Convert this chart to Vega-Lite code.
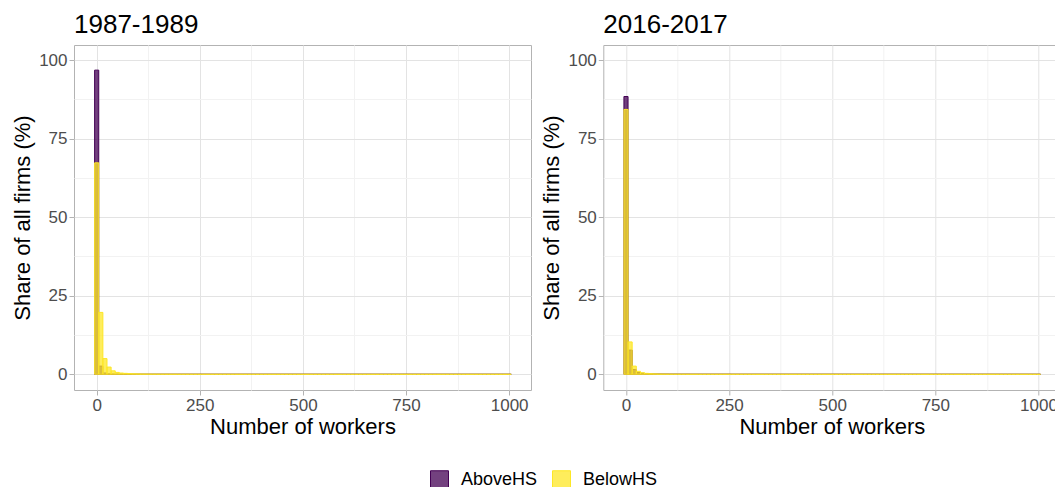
{
  "$schema": "https://vega.github.io/schema/vega-lite/v6.json",
  "autosize": {"type": "none"},
  "padding": {"left": 74, "top": 45, "right": 981, "bottom": 442},
  "background": "white",
  "config": {
    "font": "Liberation Sans",
    "view": {"stroke": "#b3b3b3", "strokeWidth": 1},
    "axis": {
      "labelFont": "Liberation Sans",
      "labelFontSize": 17,
      "labelColor": "#4d4d4d",
      "titleFont": "Liberation Sans",
      "titleFontSize": 22,
      "titleFontWeight": "normal",
      "titleColor": "#000000",
      "tickColor": "#b3b3b3",
      "tickSize": 5,
      "labelPadding": 2,
      "domain": false,
      "gridWidth": 1
    },
    "title": {"font": "Liberation Sans", "fontSize": 26, "fontWeight": "normal", "color": "#000000", "anchor": "start", "frame": "group", "offset": 7}
  },
  "datasets": {
    "d87": [
      {"g":"AboveHS","lo":-5,"hi":5,"v":96.8},{"g":"AboveHS","lo":5,"hi":15,"v":2.6},{"g":"AboveHS","lo":15,"hi":25,"v":0.4},{"g":"AboveHS","lo":25,"hi":35,"v":0.1},{"g":"AboveHS","lo":35,"hi":45,"v":0.04},{"g":"AboveHS","lo":45,"hi":55,"v":0.02},{"g":"AboveHS","lo":55,"hi":65,"v":0.01},{"g":"AboveHS","lo":65,"hi":75,"v":0.01},{"g":"AboveHS","lo":75,"hi":85,"v":0},{"g":"AboveHS","lo":85,"hi":95,"v":0},
      {"g":"AboveHS","lo":95,"hi":105,"v":0},{"g":"AboveHS","lo":105,"hi":115,"v":0},{"g":"AboveHS","lo":115,"hi":125,"v":0},{"g":"AboveHS","lo":125,"hi":135,"v":0},{"g":"AboveHS","lo":135,"hi":145,"v":0},{"g":"AboveHS","lo":145,"hi":155,"v":0},{"g":"AboveHS","lo":155,"hi":165,"v":0},{"g":"AboveHS","lo":165,"hi":175,"v":0},{"g":"AboveHS","lo":175,"hi":185,"v":0},{"g":"AboveHS","lo":185,"hi":195,"v":0},
      {"g":"AboveHS","lo":195,"hi":205,"v":0},{"g":"AboveHS","lo":205,"hi":215,"v":0},{"g":"AboveHS","lo":215,"hi":225,"v":0},{"g":"AboveHS","lo":225,"hi":235,"v":0},{"g":"AboveHS","lo":235,"hi":245,"v":0},{"g":"AboveHS","lo":245,"hi":255,"v":0},{"g":"AboveHS","lo":255,"hi":265,"v":0},{"g":"AboveHS","lo":265,"hi":275,"v":0},{"g":"AboveHS","lo":275,"hi":285,"v":0},{"g":"AboveHS","lo":285,"hi":295,"v":0},
      {"g":"AboveHS","lo":295,"hi":305,"v":0},{"g":"AboveHS","lo":305,"hi":315,"v":0},{"g":"AboveHS","lo":315,"hi":325,"v":0},{"g":"AboveHS","lo":325,"hi":335,"v":0},{"g":"AboveHS","lo":335,"hi":345,"v":0},{"g":"AboveHS","lo":345,"hi":355,"v":0},{"g":"AboveHS","lo":355,"hi":365,"v":0},{"g":"AboveHS","lo":365,"hi":375,"v":0},{"g":"AboveHS","lo":375,"hi":385,"v":0},{"g":"AboveHS","lo":385,"hi":395,"v":0},
      {"g":"AboveHS","lo":395,"hi":405,"v":0},{"g":"AboveHS","lo":405,"hi":415,"v":0},{"g":"AboveHS","lo":415,"hi":425,"v":0},{"g":"AboveHS","lo":425,"hi":435,"v":0},{"g":"AboveHS","lo":435,"hi":445,"v":0},{"g":"AboveHS","lo":445,"hi":455,"v":0},{"g":"AboveHS","lo":455,"hi":465,"v":0},{"g":"AboveHS","lo":465,"hi":475,"v":0},{"g":"AboveHS","lo":475,"hi":485,"v":0},{"g":"AboveHS","lo":485,"hi":495,"v":0},
      {"g":"AboveHS","lo":495,"hi":505,"v":0},{"g":"AboveHS","lo":505,"hi":515,"v":0},{"g":"AboveHS","lo":515,"hi":525,"v":0},{"g":"AboveHS","lo":525,"hi":535,"v":0},{"g":"AboveHS","lo":535,"hi":545,"v":0},{"g":"AboveHS","lo":545,"hi":555,"v":0},{"g":"AboveHS","lo":555,"hi":565,"v":0},{"g":"AboveHS","lo":565,"hi":575,"v":0},{"g":"AboveHS","lo":575,"hi":585,"v":0},{"g":"AboveHS","lo":585,"hi":595,"v":0},
      {"g":"AboveHS","lo":595,"hi":605,"v":0},{"g":"AboveHS","lo":605,"hi":615,"v":0},{"g":"AboveHS","lo":615,"hi":625,"v":0},{"g":"AboveHS","lo":625,"hi":635,"v":0},{"g":"AboveHS","lo":635,"hi":645,"v":0},{"g":"AboveHS","lo":645,"hi":655,"v":0},{"g":"AboveHS","lo":655,"hi":665,"v":0},{"g":"AboveHS","lo":665,"hi":675,"v":0},{"g":"AboveHS","lo":675,"hi":685,"v":0},{"g":"AboveHS","lo":685,"hi":695,"v":0},
      {"g":"AboveHS","lo":695,"hi":705,"v":0},{"g":"AboveHS","lo":705,"hi":715,"v":0},{"g":"AboveHS","lo":715,"hi":725,"v":0},{"g":"AboveHS","lo":725,"hi":735,"v":0},{"g":"AboveHS","lo":735,"hi":745,"v":0},{"g":"AboveHS","lo":745,"hi":755,"v":0},{"g":"AboveHS","lo":755,"hi":765,"v":0},{"g":"AboveHS","lo":765,"hi":775,"v":0},{"g":"AboveHS","lo":775,"hi":785,"v":0},{"g":"AboveHS","lo":785,"hi":795,"v":0},
      {"g":"AboveHS","lo":795,"hi":805,"v":0},{"g":"AboveHS","lo":805,"hi":815,"v":0},{"g":"AboveHS","lo":815,"hi":825,"v":0},{"g":"AboveHS","lo":825,"hi":835,"v":0},{"g":"AboveHS","lo":835,"hi":845,"v":0},{"g":"AboveHS","lo":845,"hi":855,"v":0},{"g":"AboveHS","lo":855,"hi":865,"v":0},{"g":"AboveHS","lo":865,"hi":875,"v":0},{"g":"AboveHS","lo":875,"hi":885,"v":0},{"g":"AboveHS","lo":885,"hi":895,"v":0},
      {"g":"AboveHS","lo":895,"hi":905,"v":0},{"g":"AboveHS","lo":905,"hi":915,"v":0},{"g":"AboveHS","lo":915,"hi":925,"v":0},{"g":"AboveHS","lo":925,"hi":935,"v":0},{"g":"AboveHS","lo":935,"hi":945,"v":0},{"g":"AboveHS","lo":945,"hi":955,"v":0},{"g":"AboveHS","lo":955,"hi":965,"v":0},{"g":"AboveHS","lo":965,"hi":975,"v":0},{"g":"AboveHS","lo":975,"hi":985,"v":0},{"g":"AboveHS","lo":985,"hi":995,"v":0},
      {"g":"AboveHS","lo":995,"hi":1005,"v":0},
      {"g":"BelowHS","lo":-5,"hi":5,"v":67.3},{"g":"BelowHS","lo":5,"hi":15,"v":19.7},{"g":"BelowHS","lo":15,"hi":25,"v":5.0},{"g":"BelowHS","lo":25,"hi":35,"v":2.3},{"g":"BelowHS","lo":35,"hi":45,"v":1.1},{"g":"BelowHS","lo":45,"hi":55,"v":0.6},{"g":"BelowHS","lo":55,"hi":65,"v":0.4},{"g":"BelowHS","lo":65,"hi":75,"v":0.3},{"g":"BelowHS","lo":75,"hi":85,"v":0.22},{"g":"BelowHS","lo":85,"hi":95,"v":0.17},
      {"g":"BelowHS","lo":95,"hi":105,"v":0.13},{"g":"BelowHS","lo":105,"hi":115,"v":0.1},{"g":"BelowHS","lo":115,"hi":125,"v":0.08},{"g":"BelowHS","lo":125,"hi":135,"v":0.07},{"g":"BelowHS","lo":135,"hi":145,"v":0.06},{"g":"BelowHS","lo":145,"hi":155,"v":0.05},{"g":"BelowHS","lo":155,"hi":165,"v":0.04},{"g":"BelowHS","lo":165,"hi":175,"v":0.04},{"g":"BelowHS","lo":175,"hi":185,"v":0.03},{"g":"BelowHS","lo":185,"hi":195,"v":0.03},
      {"g":"BelowHS","lo":195,"hi":205,"v":0.02},{"g":"BelowHS","lo":205,"hi":215,"v":0.02},{"g":"BelowHS","lo":215,"hi":225,"v":0.02},{"g":"BelowHS","lo":225,"hi":235,"v":0.02},{"g":"BelowHS","lo":235,"hi":245,"v":0.02},{"g":"BelowHS","lo":245,"hi":255,"v":0.01},{"g":"BelowHS","lo":255,"hi":265,"v":0.01},{"g":"BelowHS","lo":265,"hi":275,"v":0.01},{"g":"BelowHS","lo":275,"hi":285,"v":0.01},{"g":"BelowHS","lo":285,"hi":295,"v":0.01},
      {"g":"BelowHS","lo":295,"hi":305,"v":0.01},{"g":"BelowHS","lo":305,"hi":315,"v":0.01},{"g":"BelowHS","lo":315,"hi":325,"v":0.01},{"g":"BelowHS","lo":325,"hi":335,"v":0.01},{"g":"BelowHS","lo":335,"hi":345,"v":0.01},{"g":"BelowHS","lo":345,"hi":355,"v":0.01},{"g":"BelowHS","lo":355,"hi":365,"v":0},{"g":"BelowHS","lo":365,"hi":375,"v":0},{"g":"BelowHS","lo":375,"hi":385,"v":0},{"g":"BelowHS","lo":385,"hi":395,"v":0},
      {"g":"BelowHS","lo":395,"hi":405,"v":0},{"g":"BelowHS","lo":405,"hi":415,"v":0},{"g":"BelowHS","lo":415,"hi":425,"v":0},{"g":"BelowHS","lo":425,"hi":435,"v":0},{"g":"BelowHS","lo":435,"hi":445,"v":0},{"g":"BelowHS","lo":445,"hi":455,"v":0},{"g":"BelowHS","lo":455,"hi":465,"v":0},{"g":"BelowHS","lo":465,"hi":475,"v":0},{"g":"BelowHS","lo":475,"hi":485,"v":0},{"g":"BelowHS","lo":485,"hi":495,"v":0},
      {"g":"BelowHS","lo":495,"hi":505,"v":0},{"g":"BelowHS","lo":505,"hi":515,"v":0},{"g":"BelowHS","lo":515,"hi":525,"v":0},{"g":"BelowHS","lo":525,"hi":535,"v":0},{"g":"BelowHS","lo":535,"hi":545,"v":0},{"g":"BelowHS","lo":545,"hi":555,"v":0},{"g":"BelowHS","lo":555,"hi":565,"v":0},{"g":"BelowHS","lo":565,"hi":575,"v":0},{"g":"BelowHS","lo":575,"hi":585,"v":0},{"g":"BelowHS","lo":585,"hi":595,"v":0},
      {"g":"BelowHS","lo":595,"hi":605,"v":0},{"g":"BelowHS","lo":605,"hi":615,"v":0},{"g":"BelowHS","lo":615,"hi":625,"v":0},{"g":"BelowHS","lo":625,"hi":635,"v":0},{"g":"BelowHS","lo":635,"hi":645,"v":0},{"g":"BelowHS","lo":645,"hi":655,"v":0},{"g":"BelowHS","lo":655,"hi":665,"v":0},{"g":"BelowHS","lo":665,"hi":675,"v":0},{"g":"BelowHS","lo":675,"hi":685,"v":0},{"g":"BelowHS","lo":685,"hi":695,"v":0},
      {"g":"BelowHS","lo":695,"hi":705,"v":0},{"g":"BelowHS","lo":705,"hi":715,"v":0},{"g":"BelowHS","lo":715,"hi":725,"v":0},{"g":"BelowHS","lo":725,"hi":735,"v":0},{"g":"BelowHS","lo":735,"hi":745,"v":0},{"g":"BelowHS","lo":745,"hi":755,"v":0},{"g":"BelowHS","lo":755,"hi":765,"v":0},{"g":"BelowHS","lo":765,"hi":775,"v":0},{"g":"BelowHS","lo":775,"hi":785,"v":0},{"g":"BelowHS","lo":785,"hi":795,"v":0},
      {"g":"BelowHS","lo":795,"hi":805,"v":0},{"g":"BelowHS","lo":805,"hi":815,"v":0},{"g":"BelowHS","lo":815,"hi":825,"v":0},{"g":"BelowHS","lo":825,"hi":835,"v":0},{"g":"BelowHS","lo":835,"hi":845,"v":0},{"g":"BelowHS","lo":845,"hi":855,"v":0},{"g":"BelowHS","lo":855,"hi":865,"v":0},{"g":"BelowHS","lo":865,"hi":875,"v":0},{"g":"BelowHS","lo":875,"hi":885,"v":0},{"g":"BelowHS","lo":885,"hi":895,"v":0},
      {"g":"BelowHS","lo":895,"hi":905,"v":0},{"g":"BelowHS","lo":905,"hi":915,"v":0},{"g":"BelowHS","lo":915,"hi":925,"v":0},{"g":"BelowHS","lo":925,"hi":935,"v":0},{"g":"BelowHS","lo":935,"hi":945,"v":0},{"g":"BelowHS","lo":945,"hi":955,"v":0},{"g":"BelowHS","lo":955,"hi":965,"v":0},{"g":"BelowHS","lo":965,"hi":975,"v":0},{"g":"BelowHS","lo":975,"hi":985,"v":0},{"g":"BelowHS","lo":985,"hi":995,"v":0},
      {"g":"BelowHS","lo":995,"hi":1005,"v":0}
    ],
    "d16": [
      {"g":"AboveHS","lo":-5,"hi":5,"v":88.4},{"g":"AboveHS","lo":5,"hi":15,"v":7.7},{"g":"AboveHS","lo":15,"hi":25,"v":1.5},{"g":"AboveHS","lo":25,"hi":35,"v":0.55},{"g":"AboveHS","lo":35,"hi":45,"v":0.3},{"g":"AboveHS","lo":45,"hi":55,"v":0.18},{"g":"AboveHS","lo":55,"hi":65,"v":0.12},{"g":"AboveHS","lo":65,"hi":75,"v":0.08},{"g":"AboveHS","lo":75,"hi":85,"v":0.06},{"g":"AboveHS","lo":85,"hi":95,"v":0.05},
      {"g":"AboveHS","lo":95,"hi":105,"v":0.04},{"g":"AboveHS","lo":105,"hi":115,"v":0.03},{"g":"AboveHS","lo":115,"hi":125,"v":0.03},{"g":"AboveHS","lo":125,"hi":135,"v":0.02},{"g":"AboveHS","lo":135,"hi":145,"v":0.02},{"g":"AboveHS","lo":145,"hi":155,"v":0.02},{"g":"AboveHS","lo":155,"hi":165,"v":0.01},{"g":"AboveHS","lo":165,"hi":175,"v":0.01},{"g":"AboveHS","lo":175,"hi":185,"v":0.01},{"g":"AboveHS","lo":185,"hi":195,"v":0.01},
      {"g":"AboveHS","lo":195,"hi":205,"v":0.01},{"g":"AboveHS","lo":205,"hi":215,"v":0.01},{"g":"AboveHS","lo":215,"hi":225,"v":0.01},{"g":"AboveHS","lo":225,"hi":235,"v":0.01},{"g":"AboveHS","lo":235,"hi":245,"v":0.01},{"g":"AboveHS","lo":245,"hi":255,"v":0.01},{"g":"AboveHS","lo":255,"hi":265,"v":0},{"g":"AboveHS","lo":265,"hi":275,"v":0},{"g":"AboveHS","lo":275,"hi":285,"v":0},{"g":"AboveHS","lo":285,"hi":295,"v":0},
      {"g":"AboveHS","lo":295,"hi":305,"v":0},{"g":"AboveHS","lo":305,"hi":315,"v":0},{"g":"AboveHS","lo":315,"hi":325,"v":0},{"g":"AboveHS","lo":325,"hi":335,"v":0},{"g":"AboveHS","lo":335,"hi":345,"v":0},{"g":"AboveHS","lo":345,"hi":355,"v":0},{"g":"AboveHS","lo":355,"hi":365,"v":0},{"g":"AboveHS","lo":365,"hi":375,"v":0},{"g":"AboveHS","lo":375,"hi":385,"v":0},{"g":"AboveHS","lo":385,"hi":395,"v":0},
      {"g":"AboveHS","lo":395,"hi":405,"v":0},{"g":"AboveHS","lo":405,"hi":415,"v":0},{"g":"AboveHS","lo":415,"hi":425,"v":0},{"g":"AboveHS","lo":425,"hi":435,"v":0},{"g":"AboveHS","lo":435,"hi":445,"v":0},{"g":"AboveHS","lo":445,"hi":455,"v":0},{"g":"AboveHS","lo":455,"hi":465,"v":0},{"g":"AboveHS","lo":465,"hi":475,"v":0},{"g":"AboveHS","lo":475,"hi":485,"v":0},{"g":"AboveHS","lo":485,"hi":495,"v":0},
      {"g":"AboveHS","lo":495,"hi":505,"v":0},{"g":"AboveHS","lo":505,"hi":515,"v":0},{"g":"AboveHS","lo":515,"hi":525,"v":0},{"g":"AboveHS","lo":525,"hi":535,"v":0},{"g":"AboveHS","lo":535,"hi":545,"v":0},{"g":"AboveHS","lo":545,"hi":555,"v":0},{"g":"AboveHS","lo":555,"hi":565,"v":0},{"g":"AboveHS","lo":565,"hi":575,"v":0},{"g":"AboveHS","lo":575,"hi":585,"v":0},{"g":"AboveHS","lo":585,"hi":595,"v":0},
      {"g":"AboveHS","lo":595,"hi":605,"v":0},{"g":"AboveHS","lo":605,"hi":615,"v":0},{"g":"AboveHS","lo":615,"hi":625,"v":0},{"g":"AboveHS","lo":625,"hi":635,"v":0},{"g":"AboveHS","lo":635,"hi":645,"v":0},{"g":"AboveHS","lo":645,"hi":655,"v":0},{"g":"AboveHS","lo":655,"hi":665,"v":0},{"g":"AboveHS","lo":665,"hi":675,"v":0},{"g":"AboveHS","lo":675,"hi":685,"v":0},{"g":"AboveHS","lo":685,"hi":695,"v":0},
      {"g":"AboveHS","lo":695,"hi":705,"v":0},{"g":"AboveHS","lo":705,"hi":715,"v":0},{"g":"AboveHS","lo":715,"hi":725,"v":0},{"g":"AboveHS","lo":725,"hi":735,"v":0},{"g":"AboveHS","lo":735,"hi":745,"v":0},{"g":"AboveHS","lo":745,"hi":755,"v":0},{"g":"AboveHS","lo":755,"hi":765,"v":0},{"g":"AboveHS","lo":765,"hi":775,"v":0},{"g":"AboveHS","lo":775,"hi":785,"v":0},{"g":"AboveHS","lo":785,"hi":795,"v":0},
      {"g":"AboveHS","lo":795,"hi":805,"v":0},{"g":"AboveHS","lo":805,"hi":815,"v":0},{"g":"AboveHS","lo":815,"hi":825,"v":0},{"g":"AboveHS","lo":825,"hi":835,"v":0},{"g":"AboveHS","lo":835,"hi":845,"v":0},{"g":"AboveHS","lo":845,"hi":855,"v":0},{"g":"AboveHS","lo":855,"hi":865,"v":0},{"g":"AboveHS","lo":865,"hi":875,"v":0},{"g":"AboveHS","lo":875,"hi":885,"v":0},{"g":"AboveHS","lo":885,"hi":895,"v":0},
      {"g":"AboveHS","lo":895,"hi":905,"v":0},{"g":"AboveHS","lo":905,"hi":915,"v":0},{"g":"AboveHS","lo":915,"hi":925,"v":0},{"g":"AboveHS","lo":925,"hi":935,"v":0},{"g":"AboveHS","lo":935,"hi":945,"v":0},{"g":"AboveHS","lo":945,"hi":955,"v":0},{"g":"AboveHS","lo":955,"hi":965,"v":0},{"g":"AboveHS","lo":965,"hi":975,"v":0},{"g":"AboveHS","lo":975,"hi":985,"v":0},{"g":"AboveHS","lo":985,"hi":995,"v":0},
      {"g":"AboveHS","lo":995,"hi":1005,"v":0},
      {"g":"BelowHS","lo":-5,"hi":5,"v":84.3},{"g":"BelowHS","lo":5,"hi":15,"v":10.3},{"g":"BelowHS","lo":15,"hi":25,"v":2.6},{"g":"BelowHS","lo":25,"hi":35,"v":0.95},{"g":"BelowHS","lo":35,"hi":45,"v":0.5},{"g":"BelowHS","lo":45,"hi":55,"v":0.3},{"g":"BelowHS","lo":55,"hi":65,"v":0.2},{"g":"BelowHS","lo":65,"hi":75,"v":0.14},{"g":"BelowHS","lo":75,"hi":85,"v":0.1},{"g":"BelowHS","lo":85,"hi":95,"v":0.08},
      {"g":"BelowHS","lo":95,"hi":105,"v":0.06},{"g":"BelowHS","lo":105,"hi":115,"v":0.05},{"g":"BelowHS","lo":115,"hi":125,"v":0.04},{"g":"BelowHS","lo":125,"hi":135,"v":0.03},{"g":"BelowHS","lo":135,"hi":145,"v":0.03},{"g":"BelowHS","lo":145,"hi":155,"v":0.02},{"g":"BelowHS","lo":155,"hi":165,"v":0.02},{"g":"BelowHS","lo":165,"hi":175,"v":0.02},{"g":"BelowHS","lo":175,"hi":185,"v":0.01},{"g":"BelowHS","lo":185,"hi":195,"v":0.01},
      {"g":"BelowHS","lo":195,"hi":205,"v":0.01},{"g":"BelowHS","lo":205,"hi":215,"v":0.01},{"g":"BelowHS","lo":215,"hi":225,"v":0.01},{"g":"BelowHS","lo":225,"hi":235,"v":0.01},{"g":"BelowHS","lo":235,"hi":245,"v":0.01},{"g":"BelowHS","lo":245,"hi":255,"v":0.01},{"g":"BelowHS","lo":255,"hi":265,"v":0.01},{"g":"BelowHS","lo":265,"hi":275,"v":0.01},{"g":"BelowHS","lo":275,"hi":285,"v":0.01},{"g":"BelowHS","lo":285,"hi":295,"v":0.01},
      {"g":"BelowHS","lo":295,"hi":305,"v":0.01},{"g":"BelowHS","lo":305,"hi":315,"v":0},{"g":"BelowHS","lo":315,"hi":325,"v":0},{"g":"BelowHS","lo":325,"hi":335,"v":0},{"g":"BelowHS","lo":335,"hi":345,"v":0},{"g":"BelowHS","lo":345,"hi":355,"v":0},{"g":"BelowHS","lo":355,"hi":365,"v":0},{"g":"BelowHS","lo":365,"hi":375,"v":0},{"g":"BelowHS","lo":375,"hi":385,"v":0},{"g":"BelowHS","lo":385,"hi":395,"v":0},
      {"g":"BelowHS","lo":395,"hi":405,"v":0},{"g":"BelowHS","lo":405,"hi":415,"v":0},{"g":"BelowHS","lo":415,"hi":425,"v":0},{"g":"BelowHS","lo":425,"hi":435,"v":0},{"g":"BelowHS","lo":435,"hi":445,"v":0},{"g":"BelowHS","lo":445,"hi":455,"v":0},{"g":"BelowHS","lo":455,"hi":465,"v":0},{"g":"BelowHS","lo":465,"hi":475,"v":0},{"g":"BelowHS","lo":475,"hi":485,"v":0},{"g":"BelowHS","lo":485,"hi":495,"v":0},
      {"g":"BelowHS","lo":495,"hi":505,"v":0},{"g":"BelowHS","lo":505,"hi":515,"v":0},{"g":"BelowHS","lo":515,"hi":525,"v":0},{"g":"BelowHS","lo":525,"hi":535,"v":0},{"g":"BelowHS","lo":535,"hi":545,"v":0},{"g":"BelowHS","lo":545,"hi":555,"v":0},{"g":"BelowHS","lo":555,"hi":565,"v":0},{"g":"BelowHS","lo":565,"hi":575,"v":0},{"g":"BelowHS","lo":575,"hi":585,"v":0},{"g":"BelowHS","lo":585,"hi":595,"v":0},
      {"g":"BelowHS","lo":595,"hi":605,"v":0},{"g":"BelowHS","lo":605,"hi":615,"v":0},{"g":"BelowHS","lo":615,"hi":625,"v":0},{"g":"BelowHS","lo":625,"hi":635,"v":0},{"g":"BelowHS","lo":635,"hi":645,"v":0},{"g":"BelowHS","lo":645,"hi":655,"v":0},{"g":"BelowHS","lo":655,"hi":665,"v":0},{"g":"BelowHS","lo":665,"hi":675,"v":0},{"g":"BelowHS","lo":675,"hi":685,"v":0},{"g":"BelowHS","lo":685,"hi":695,"v":0},
      {"g":"BelowHS","lo":695,"hi":705,"v":0},{"g":"BelowHS","lo":705,"hi":715,"v":0},{"g":"BelowHS","lo":715,"hi":725,"v":0},{"g":"BelowHS","lo":725,"hi":735,"v":0},{"g":"BelowHS","lo":735,"hi":745,"v":0},{"g":"BelowHS","lo":745,"hi":755,"v":0},{"g":"BelowHS","lo":755,"hi":765,"v":0},{"g":"BelowHS","lo":765,"hi":775,"v":0},{"g":"BelowHS","lo":775,"hi":785,"v":0},{"g":"BelowHS","lo":785,"hi":795,"v":0},
      {"g":"BelowHS","lo":795,"hi":805,"v":0},{"g":"BelowHS","lo":805,"hi":815,"v":0},{"g":"BelowHS","lo":815,"hi":825,"v":0},{"g":"BelowHS","lo":825,"hi":835,"v":0},{"g":"BelowHS","lo":835,"hi":845,"v":0},{"g":"BelowHS","lo":845,"hi":855,"v":0},{"g":"BelowHS","lo":855,"hi":865,"v":0},{"g":"BelowHS","lo":865,"hi":875,"v":0},{"g":"BelowHS","lo":875,"hi":885,"v":0},{"g":"BelowHS","lo":885,"hi":895,"v":0},
      {"g":"BelowHS","lo":895,"hi":905,"v":0},{"g":"BelowHS","lo":905,"hi":915,"v":0},{"g":"BelowHS","lo":915,"hi":925,"v":0},{"g":"BelowHS","lo":925,"hi":935,"v":0},{"g":"BelowHS","lo":935,"hi":945,"v":0},{"g":"BelowHS","lo":945,"hi":955,"v":0},{"g":"BelowHS","lo":955,"hi":965,"v":0},{"g":"BelowHS","lo":965,"hi":975,"v":0},{"g":"BelowHS","lo":975,"hi":985,"v":0},{"g":"BelowHS","lo":985,"hi":995,"v":0},
      {"g":"BelowHS","lo":995,"hi":1005,"v":0}
    ]
  },
  "bounds": "flush",
  "spacing": 72.3,
  "resolve": {"scale": {"color": "shared", "stroke": "shared"}, "legend": {"color": "shared", "stroke": "shared"}},
  "hconcat": [
    {
      "width": 457,
      "height": 345,
      "title": {"text": "1987-1989"},
      "data": {"name": "d87"},
      "mark": {"type": "bar", "fillOpacity": 0.75, "strokeWidth": 1},
      "encoding": {
        "x": {"field": "lo", "type": "quantitative", "scale": {"domain": [-55, 1053], "nice": false, "zero": false},
          "axis": {"title": "Number of workers", "titlePadding": 3, "values": [0,125,250,375,500,625,750,875,1000], "format": "d",
            "labelExpr": "datum.value % 250 === 0 ? datum.label : ''",
            "tickOpacity": {"condition": {"test": "datum.value % 250 !== 0", "value": 0}, "value": 1},
            "gridColor": {"condition": {"test": "datum.value % 250 !== 0", "value": "#f2f2f2"}, "value": "#e3e3e3"}}},
        "x2": {"field": "hi"},
        "y": {"field": "v", "type": "quantitative", "stack": null, "scale": {"domain": [-5, 104.8], "nice": false, "zero": false},
          "axis": {"title": "Share of all firms (%)", "titlePadding": 4, "values": [0,12.5,25,37.5,50,62.5,75,87.5,100], "format": "d",
            "labelExpr": "datum.value % 25 === 0 ? datum.label : ''",
            "tickOpacity": {"condition": {"test": "datum.value % 25 !== 0", "value": 0}, "value": 1},
            "gridColor": {"condition": {"test": "datum.value % 25 !== 0", "value": "#f2f2f2"}, "value": "#e3e3e3"}}},
        "y2": {"datum": 0},
        "color": {"field": "g", "type": "nominal", "scale": {"domain": ["AboveHS", "BelowHS"], "range": ["#440154", "#FDE725"]},
          "legend": {"title": null, "orient": "none", "legendX": 356, "legendY": 425, "direction": "horizontal", "symbolType": "square", "symbolSize": 324, "symbolStrokeWidth": 1, "labelFontSize": 18, "labelColor": "#000000", "labelOffset": 12, "columnPadding": 12, "padding": 0,
            "encode": {"symbols": {"update": {"fillOpacity": {"value": 0.75}}}}}},
        "stroke": {"field": "g", "type": "nominal", "scale": {"domain": ["AboveHS", "BelowHS"], "range": ["#440154", "#FDE725"]}, "legend": null}
      }
    },
    {
      "width": 457,
      "height": 345,
      "title": {"text": "2016-2017"},
      "data": {"name": "d16"},
      "mark": {"type": "bar", "fillOpacity": 0.75, "strokeWidth": 1},
      "encoding": {
        "x": {"field": "lo", "type": "quantitative", "scale": {"domain": [-55, 1053], "nice": false, "zero": false},
          "axis": {"title": "Number of workers", "titlePadding": 3, "values": [0,125,250,375,500,625,750,875,1000], "format": "d",
            "labelExpr": "datum.value % 250 === 0 ? datum.label : ''",
            "tickOpacity": {"condition": {"test": "datum.value % 250 !== 0", "value": 0}, "value": 1},
            "gridColor": {"condition": {"test": "datum.value % 250 !== 0", "value": "#f2f2f2"}, "value": "#e3e3e3"}}},
        "x2": {"field": "hi"},
        "y": {"field": "v", "type": "quantitative", "stack": null, "scale": {"domain": [-5, 104.8], "nice": false, "zero": false},
          "axis": {"title": "Share of all firms (%)", "titlePadding": 4, "values": [0,12.5,25,37.5,50,62.5,75,87.5,100], "format": "d",
            "labelExpr": "datum.value % 25 === 0 ? datum.label : ''",
            "tickOpacity": {"condition": {"test": "datum.value % 25 !== 0", "value": 0}, "value": 1},
            "gridColor": {"condition": {"test": "datum.value % 25 !== 0", "value": "#f2f2f2"}, "value": "#e3e3e3"}}},
        "y2": {"datum": 0},
        "color": {"field": "g", "type": "nominal", "scale": {"domain": ["AboveHS", "BelowHS"], "range": ["#440154", "#FDE725"]},
          "legend": {"title": null, "orient": "none", "legendX": 356, "legendY": 425, "direction": "horizontal", "symbolType": "square", "symbolSize": 324, "symbolStrokeWidth": 1, "labelFontSize": 18, "labelColor": "#000000", "labelOffset": 12, "columnPadding": 12, "padding": 0,
            "encode": {"symbols": {"update": {"fillOpacity": {"value": 0.75}}}}}},
        "stroke": {"field": "g", "type": "nominal", "scale": {"domain": ["AboveHS", "BelowHS"], "range": ["#440154", "#FDE725"]}, "legend": null}
      }
    }
  ]
}
